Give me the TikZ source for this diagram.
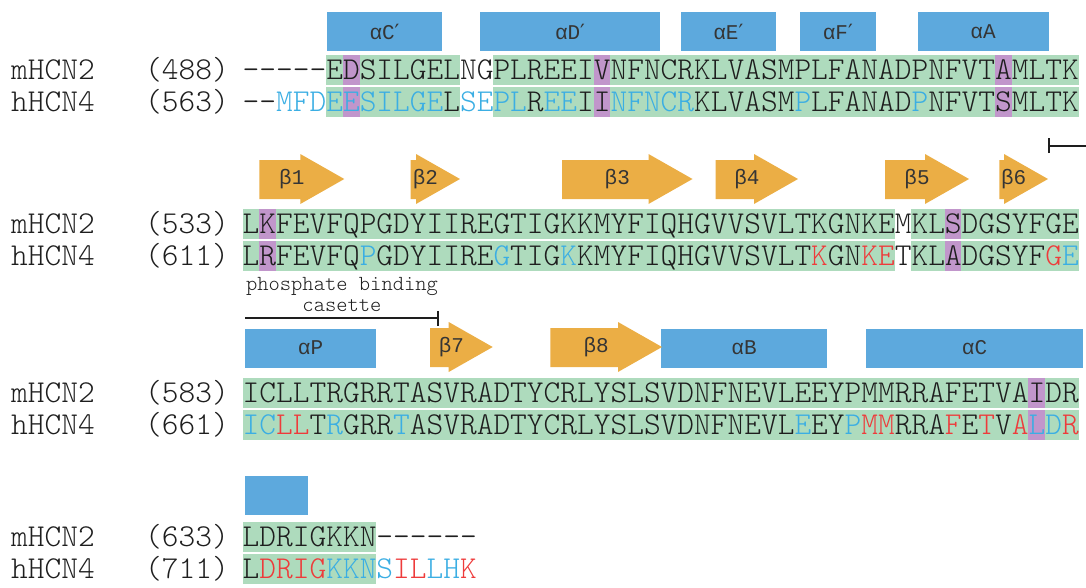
\documentclass[tikz,border=0pt]{standalone}
\usepackage{fontspec}
\setmonofont{lmmonolt10-regular}[Extension=.otf]
\newfontfamily\lblfont{Liberation Mono}
\newfontfamily\primefont{DejaVu Sans}
\usepackage{xcolor}
\usetikzlibrary{arrows.meta}

\definecolor{barblue}{HTML}{5DA9DD}
\definecolor{strandorange}{HTML}{EBAE45}
\definecolor{seqgreen}{HTML}{AEDBBD}
\definecolor{seqpurple}{HTML}{C196CB}
\definecolor{resblue}{HTML}{3BAEE3}
\definecolor{resred}{HTML}{EE3B3B}
\definecolor{ink}{HTML}{1E1E1E}

\newcommand{\bu}[1]{\textcolor{resblue}{#1}}
\newcommand{\rd}[1]{\textcolor{resred}{#1}}
\newcommand{\prm}{{\primefont ′}}
\def\xo{242.5}
\def\cw{16.72}

\tikzset{
  seq/.style={anchor=base west, inner sep=0pt, text=ink, font=\fontsize{31.85}{32}\selectfont\ttfamily},
  sslbl/.style={inner sep=0pt, text=ink!90, font=\fontsize{21}{21}\selectfont\lblfont},
  note/.style={inner sep=0pt, align=center, text=ink, font=\fontsize{21.5}{21}\selectfont\ttfamily},
  bracket/.style={line width=2pt, ink},
}

\begin{document}
\begin{tikzpicture}[x=1pt, y=-1pt]
  \useasboundingbox (0,0) rectangle (1086,587);
  \clip (0,0) rectangle (1086,587);
  % conserved blocks
  \foreach \t/\a/\b in {55/5/13, 55/15/50, 209/0/39, 209/40/50, 378/0/50, 522/0/8} {
    \fill[seqgreen] ({\xo+\a*\cw},\t) rectangle ({\xo+\b*\cw},\t+30);
    \fill[seqgreen] ({\xo+\a*\cw},\t+32) rectangle ({\xo+\b*\cw},\t+62);
  }
  \foreach \t/\c in {55/6, 55/21, 55/45, 209/1, 209/42, 378/47} {
    \fill[seqpurple] ({\xo+\c*\cw},\t) rectangle ({\xo+(\c+1)*\cw},\t+30);
    \fill[seqpurple] ({\xo+\c*\cw},\t+32) rectangle ({\xo+(\c+1)*\cw},\t+62);
  }
  % alpha helices
  \foreach \xa/\xb/\ya/\lbl [count=\i] in {327/442/12/αC\prm, 480/660/12/αD\prm, 680.7/776/12/αE\prm,
      799.6/876/12/αF\prm, 917.5/1048.6/12/αA, 245/376/328.5/αP, 661/827/328.5/αB, 866/1083/328.5/αC} {
    \fill[barblue] (\xa,\ya) rectangle (\xb,\ya+39);
    \node[sslbl] (helix\i) at ({(\xa+\xb)/2},\ya+19.5) {\lbl};
  }
  \fill[barblue] (245,476) rectangle (308,515);
  % beta strands
  \foreach \s/\e/\yt/\lbl [count=\i] in {259.3/344.3/154/β1, 410.7/460/154/β2, 562/692.5/154/β3,
      715.7/798/154/β4, 885/969/154/β5, 999.3/1048/154/β6, 430/492.7/322/β7, 550.4/662/322/β8} {
    \pgfmathsetmacro\hb{max(\s,\e-44)}
    \fill[strandorange] (\s,\yt+6) -- (\hb,\yt+6) -- (\hb,\yt) -- (\e,\yt+25)
      -- (\hb,\yt+50) -- (\hb,\yt+45) -- (\s,\yt+45) -- cycle;
    \node[sslbl] (strand\i) at ({(\s+\e)/2-10},\yt+25) {\lbl};
  }
  % phosphate binding cassette
  \coordinate (pbcA) at (1048,145.7);
  \coordinate (pbcB) at (1086,145.7);
  \coordinate (pbcC) at (245,318.3);
  \coordinate (pbcD) at (439.3,318.3);
  \draw[bracket, {Bar[width=15pt]}-] (pbcA) -- (pbcB);
  \draw[bracket, -{Bar[width=15pt]}] (pbcC) -- (pbcD);
  \node[note, anchor=north] (pbc) at (342,277.5) {phosphate binding\\casette};
  % sequences
  \foreach \y/\nm/\num [count=\i] in {79/mHCN2/488, 111/hHCN4/563, 233/mHCN2/533, 265/hHCN4/611,
      402/mHCN2/583, 434/hHCN4/661, 546/mHCN2/633, 578/hHCN4/711} {
    \node[seq] (name\i) at (11,\y) {\nm};
    \node[seq] (num\i) at (145,\y) {(\num)};
  }
  \node[seq] (m1) at (\xo,79) {-----EDSILGELNGPLREEIVNFNCRKLVASMPLFANADPNFVTAMLTK};
  \node[seq] (h1) at (\xo,111) {--\bu{MFDEESILGE}L\bu{SEPL}R\bu{EE}II\bu{NFNCR}KLVASM\bu{P}LFANAD\bu{P}NFVTSMLTK};
  \node[seq] (m2) at (\xo,233) {LKFEVFQPGDYIIREGTIGKKMYFIQHGVVSVLTKGNKEMKLSDGSYFGE};
  \node[seq] (h2) at (\xo,265) {LRFEVFQ\bu{P}GDYIIRE\bu{G}TIG\bu{K}KMYFIQHGVVSVLT\rd{K}GN\rd{KE}TKLADGSYF\rd{G}\bu{E}};
  \node[seq] (m3) at (\xo,402) {ICLLTRGRRTASVRADTYCRLYSLSVDNFNEVLEEYPMMRRAFETVAIDR};
  \node[seq] (h3) at (\xo,434) {\bu{IC}\rd{LL}T\bu{R}GRR\bu{T}ASVRADTYCRLYSLSVDNFNEVL\bu{E}EY\bu{P}\rd{MM}RRA\rd{F}E\rd{T}V\rd{A}\bu{LD}\rd{R}};
  \node[seq] (m4) at (\xo,546) {LDRIGKKN------};
  \node[seq] (h4) at (\xo,578) {L\rd{DRIG}\bu{KKNS}\rd{IL}\bu{LH}\rd{K}};
\end{tikzpicture}
\end{document}
